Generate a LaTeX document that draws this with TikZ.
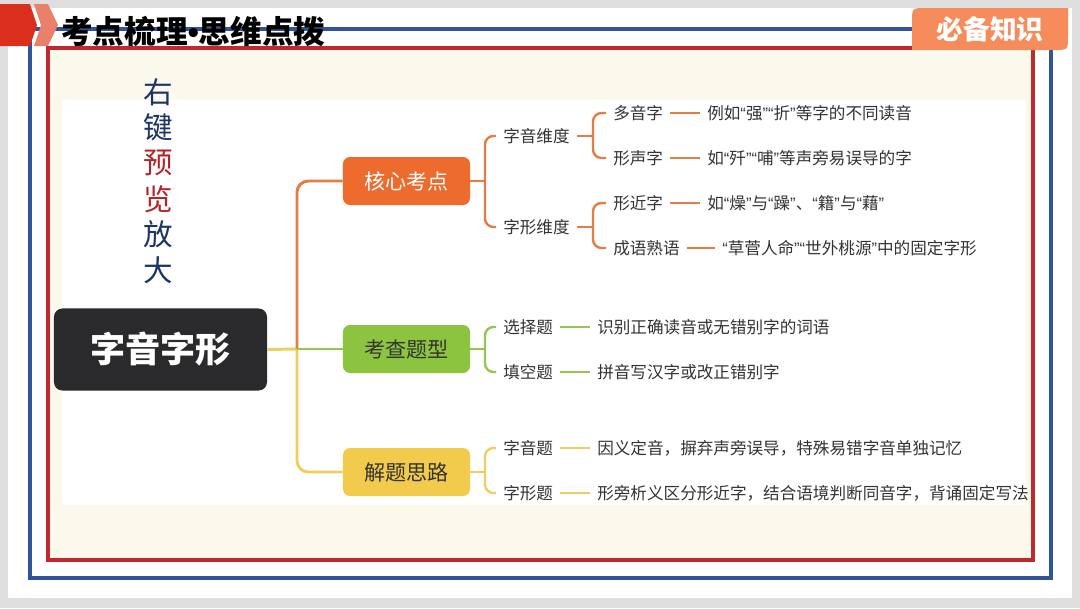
\documentclass[tikz,border=0pt]{standalone}
\usepackage{fontspec}
\setmainfont{Noto Sans CJK SC}
\newfontfamily\latinqt{Liberation Sans}
\usetikzlibrary{positioning,calc}

\definecolor{frameblue}{HTML}{2F5597}
\definecolor{framered}{HTML}{C0282D}
\definecolor{cream}{HTML}{FAF9EC}
\definecolor{pagegray}{HTML}{DEDEDE}
\definecolor{badgeor}{HTML}{F68C5B}
\definecolor{tagred}{HTML}{DA2F1C}
\definecolor{tagsalmon}{HTML}{E8806A}
\definecolor{rootdark}{HTML}{2A2A2C}
\definecolor{coreor}{HTML}{EC6B2D}
\definecolor{examgr}{HTML}{8DC43F}
\definecolor{methye}{HTML}{F3CB4C}
\definecolor{lnorange}{HTML}{E27D45}
\definecolor{lngreen}{HTML}{94C652}
\definecolor{lnyellow}{HTML}{F1CD60}
\definecolor{txtgray}{HTML}{333333}
\definecolor{navy}{HTML}{1D3466}
\definecolor{hintred}{HTML}{B4232A}

\newcommand{\qt}[1]{{\latinqt “}#1{\latinqt ”}}

\tikzset{
  lvlone/.style={rounded corners=5pt, minimum width=3.175cm, minimum height=1.2cm,
    font=\fontsize{15pt}{17pt}\selectfont},
  item/.style={anchor=west, inner xsep=0.175cm, inner ysep=2pt, text=txtgray,
    font=\fontsize{11.8pt}{14pt}\selectfont},
  orline/.style={draw=lnorange, line width=1.7pt},
  grline/.style={draw=lngreen, line width=1.7pt},
  yeline/.style={draw=lnyellow, line width=1.7pt},
  hint/.style={font=\fontsize{21pt}{23pt}\selectfont}
}

\begin{document}
\begin{tikzpicture}[x=0.025cm, y=-0.025cm]
  \useasboundingbox (0,0) rectangle (1080,608);

  % page and frames
  \fill[pagegray] (0,0) rectangle (1080,608);
  \fill[white] (8,8) rectangle (1072,598);
  \draw[frameblue, line width=2.8pt] (30,29) rectangle (1051,578);
  \fill[cream] (48,48) rectangle (1033,560);
  \fill[white] (62,100) rectangle (1026,505);
  \draw[framered, line width=2.8pt] (48,48) rectangle (1033,560);

  % title tag
  \fill[tagred] (0,4) -- (30,4) -- (37,25) -- (30,46) -- (0,46) -- cycle;
  \fill[tagsalmon] (34,4) -- (48,4) -- (58,25) -- (48,46) -- (34,46) -- (41,25) -- cycle;
  \node[anchor=west, inner sep=0, font=\fontsize{22.5pt}{24pt}\selectfont\bfseries] (title) at (61,31)
    {考点梳理{\latinqt\bfseries •}思维点拨};

  % badge
  \fill[badgeor] (912,50) -- (912,22) .. controls (912,8) .. (926,8) -- (1068,8)
    -- (1068,36) .. controls (1068,50) .. (1054,50) -- cycle;
  \node[text=white, font=\fontsize{19pt}{21pt}\selectfont\bfseries] (badge) at (990,29) {必备知识};

  % vertical hint
  \node[hint, text=navy] (h1) at (158,92) {右};
  \node[hint, text=navy] (h2) at (158,127.6) {键};
  \node[hint, text=hintred] (h3) at (158,163.2) {预};
  \node[hint, text=hintred] (h4) at (158,198.8) {览};
  \node[hint, text=navy] (h5) at (158,234.4) {放};
  \node[hint, text=navy] (h6) at (158,270) {大};

  % root
  \node[fill=rootdark, text=white, rounded corners=6pt, minimum width=5.325cm, minimum height=2.05cm,
    font=\fontsize{25pt}{27pt}\selectfont\bfseries] (root) at (160.5,349.5) {字音字形};

  % level one
  \node[lvlone, fill=coreor, text=white] (core) at (406.5,181) {核心考点};
  \node[lvlone, fill=examgr, text=txtgray] (exam) at (406.5,349) {考查题型};
  \node[lvlone, fill=methye, text=txtgray] (method) at (406.5,472) {解题思路};

  \coordinate (jn) at (297,349);
  \draw[yeline, line width=2.1pt] (root.east) -- (jn);
  \draw[orline, line width=2.1pt, rounded corners=8pt] (jn) |- (core.west);
  \draw[yeline, line width=2.1pt, rounded corners=8pt] (jn) |- (method.west);
  \draw[grline, line width=2.1pt] (jn) -- (exam.west);

  % core branch
  \node[item] (yinwd) at (496,136) {字音维度};
  \node[item] (xingwd) at (496,227) {字形维度};
  \coordinate (b1) at (485,181);
  \draw[orline] (core.east) -- (b1);
  \draw[orline, rounded corners=6pt] (b1) |- (yinwd.west);
  \draw[orline, rounded corners=6pt] (b1) |- (xingwd.west);

  \node[item] (dyz) at (606,113) {多音字};
  \node[item] (xsz) at (606,158) {形声字};
  \node[item] (xjz) at (606,203) {形近字};
  \node[item] (cysy) at (606,248) {成语熟语};
  \coordinate (b2) at (593,136);
  \coordinate (b3) at (593,227);
  \draw[orline] (yinwd.east) -- (b2);
  \draw[orline, rounded corners=6pt] (b2) |- (dyz.west);
  \draw[orline, rounded corners=6pt] (b2) |- (xsz.west);
  \draw[orline] (xingwd.east) -- (b3);
  \draw[orline, rounded corners=6pt] (b3) |- (xjz.west);
  \draw[orline, rounded corners=6pt] (b3) |- (cysy.west);

  \node[item] (d-dyz) at (700,113) {例如\qt{强}\qt{折}等字的不同读音};
  \node[item] (d-xsz) at (700,158) {如\qt{歼}\qt{哺}等声旁易误导的字};
  \node[item] (d-xjz) at (700,203) {如\qt{燥}与\qt{躁}、\qt{籍}与\qt{藉}};
  \node[item] (d-cysy) at (715,248) {\qt{草菅人命}\qt{世外桃源}中的固定字形};
  \draw[orline] (dyz) -- (d-dyz);
  \draw[orline] (xsz) -- (d-xsz);
  \draw[orline] (xjz) -- (d-xjz);
  \draw[orline] (cysy) -- (d-cysy);

  % exam branch
  \node[item] (xzt) at (496,327) {选择题};
  \node[item] (tkt) at (496,372) {填空题};
  \coordinate (b4) at (485,349);
  \draw[grline] (exam.east) -- (b4);
  \draw[grline, rounded corners=6pt] (b4) |- (xzt.west);
  \draw[grline, rounded corners=6pt] (b4) |- (tkt.west);
  \node[item] (d-xzt) at (590,327) {识别正确读音或无错别字的词语};
  \node[item] (d-tkt) at (590,372) {拼音写汉字或改正错别字};
  \draw[grline] (xzt) -- (d-xzt);
  \draw[grline] (tkt) -- (d-tkt);

  % method branch
  \node[item] (zyt) at (496,448) {字音题};
  \node[item] (zxt) at (496,493) {字形题};
  \coordinate (b5) at (485,472);
  \draw[yeline] (method.east) -- (b5);
  \draw[yeline, rounded corners=6pt] (b5) |- (zyt.west);
  \draw[yeline, rounded corners=6pt] (b5) |- (zxt.west);
  \node[item] (d-zyt) at (590,448) {因义定音，摒弃声旁误导，特殊易错字音单独记忆};
  \node[item] (d-zxt) at (590,493) {形旁析义区分形近字，结合语境判断同音字，背诵固定写法};
  \draw[yeline] (zyt) -- (d-zyt);
  \draw[yeline] (zxt) -- (d-zxt);
\end{tikzpicture}
\end{document}
